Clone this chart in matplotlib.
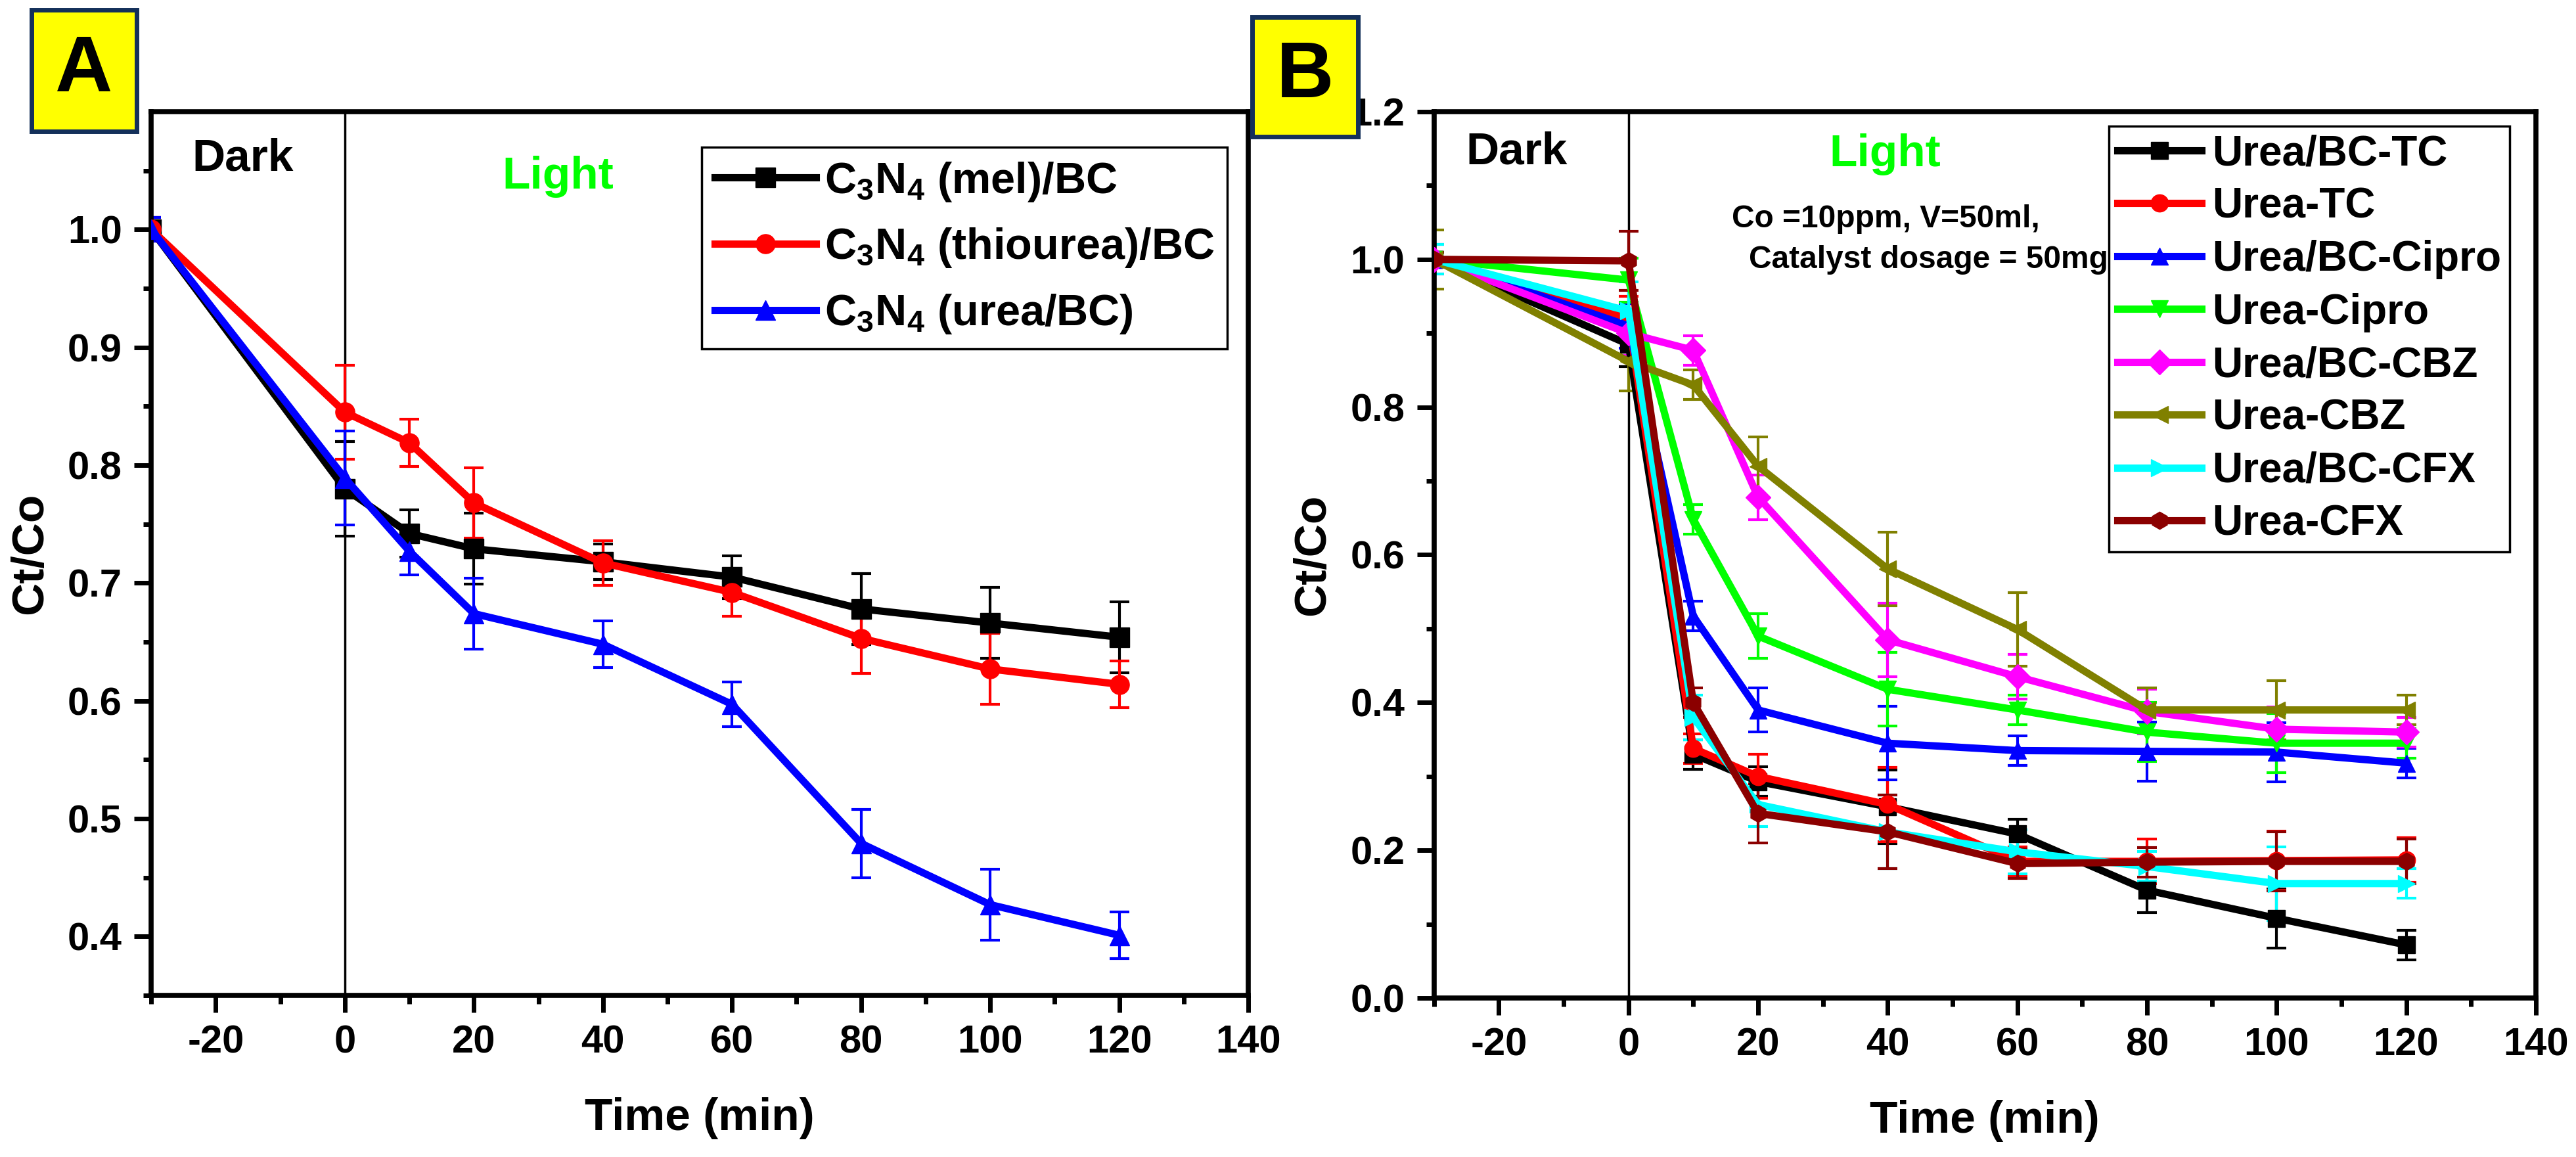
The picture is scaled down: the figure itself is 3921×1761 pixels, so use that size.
import matplotlib
matplotlib.use("Agg")
import matplotlib.pyplot as plt
from matplotlib.patches import Rectangle
import numpy as np

plt.rcParams['font.family'] = ['Liberation Sans', 'DejaVu Sans']
plt.rcParams['font.weight'] = 'bold'
plt.rcParams['axes.unicode_minus'] = False
plt.rcParams['mathtext.fontset'] = 'custom'
plt.rcParams['mathtext.bf'] = 'Liberation Sans:bold'
plt.rcParams['mathtext.rm'] = 'Liberation Sans:bold'
plt.rcParams['mathtext.default'] = 'bf'

# time points (min)
t = [-30, 0, 10, 20, 40, 60, 80, 100, 120]

# panel A
a_labels = [r'C$_3$N$_4$ (mel)/BC', r'C$_3$N$_4$ (thiourea)/BC', r'C$_3$N$_4$ (urea/BC)']
a_mel = [1.0, 0.78, 0.742, 0.729, 0.718, 0.705, 0.678, 0.666, 0.654]
a_mel_err = [0.01, 0.04, 0.02, 0.03, 0.015, 0.018, 0.03, 0.03, 0.03]
a_thio = [1.0, 0.845, 0.819, 0.768, 0.717, 0.692, 0.653, 0.627, 0.614]
a_thio_err = [0.01, 0.04, 0.02, 0.03, 0.019, 0.02, 0.03, 0.03, 0.02]
a_urea = [1.0, 0.789, 0.727, 0.674, 0.648, 0.597, 0.479, 0.427, 0.401]
a_urea_err = [0.01, 0.04, 0.02, 0.03, 0.02, 0.019, 0.029, 0.03, 0.02]

# panel B
b_labels = ['Urea/BC-TC', 'Urea-TC', 'Urea/BC-Cipro', 'Urea-Cipro',
            'Urea/BC-CBZ', 'Urea-CBZ', 'Urea/BC-CFX', 'Urea-CFX']
b_bc_tc = [1.0, 0.885, 0.33, 0.293, 0.259, 0.222, 0.146, 0.108, 0.072]
b_tc = [1.0, 0.92, 0.338, 0.30, 0.262, 0.185, 0.185, 0.186, 0.187]
b_bc_cipro = [1.0, 0.91, 0.517, 0.39, 0.345, 0.335, 0.334, 0.333, 0.318]
b_cipro = [1.0, 0.972, 0.648, 0.49, 0.418, 0.39, 0.36, 0.345, 0.345]
b_bc_cbz = [1.0, 0.90, 0.877, 0.678, 0.485, 0.435, 0.388, 0.364, 0.36]
b_cbz = [1.0, 0.862, 0.83, 0.72, 0.581, 0.499, 0.39, 0.39, 0.39]
b_bc_cfx = [1.0, 0.93, 0.38, 0.262, 0.225, 0.198, 0.178, 0.155, 0.155]
b_cfx = [1.0, 0.998, 0.40, 0.25, 0.225, 0.182, 0.184, 0.185, 0.185]
b_err = [
    [0.01, 0.03, 0.02, 0.02, 0.05, 0.02, 0.03, 0.04, 0.02],
    [0.01, 0.03, 0.02, 0.03, 0.05, 0.02, 0.03, 0.04, 0.03],
    [0.01, 0.03, 0.02, 0.03, 0.05, 0.02, 0.04, 0.04, 0.02],
    [0.01, 0.03, 0.02, 0.03, 0.05, 0.02, 0.04, 0.04, 0.02],
    [0.02, 0.03, 0.02, 0.03, 0.05, 0.03, 0.03, 0.03, 0.02],
    [0.04, 0.04, 0.02, 0.04, 0.05, 0.05, 0.03, 0.04, 0.02],
    [0.02, 0.04, 0.03, 0.03, 0.05, 0.03, 0.02, 0.05, 0.02],
    [0.01, 0.04, 0.02, 0.04, 0.05, 0.02, 0.02, 0.04, 0.03],
]

a_colors = ['black', '#FF0000', '#0000FF']
a_markers = ['s', 'o', '^']
b_colors = ['black', '#FF0000', '#0000FF', '#00FF00', '#FF00FF', '#808000', '#00FFFF', '#8B0000']
b_markers = ['s', 'o', '^', 'v', 'D', '<', '>', 'h']

fig = plt.figure(figsize=(39.21, 17.61), dpi=100)
axA = fig.add_axes([0.0587, 0.1397, 0.4259, 0.7638])
axB = fig.add_axes([0.5567, 0.1374, 0.4277, 0.7661])


def style(ax):
    for s in ax.spines.values():
        s.set_linewidth(5.5)
    ax.tick_params(which='both', direction='out', top=False, right=False, width=5)
    ax.tick_params(which='major', length=19, labelsize=43, pad=13)
    ax.tick_params(which='minor', length=9)
    ax.set_xlim(-30, 140)
    ax.set_xticks(np.arange(-20, 141, 20))
    ax.set_xticks(np.arange(-30, 141, 20), minor=True)
    ax.axvline(0, color='black', lw=2.5, zorder=1)
    ax.set_xlabel('Time (min)', fontsize=50, fontweight='bold', labelpad=40)
    ax.set_ylabel('Ct/Co', fontsize=50, fontweight='bold')
    ax.yaxis.set_label_coords(-0.091, 0.5)


# panel A
style(axA)
a_vals = [a_mel, a_thio, a_urea]
a_errs = [a_mel_err, a_thio_err, a_urea_err]
for vals, errs, c, m, lab in zip(a_vals, a_errs, a_colors, a_markers, a_labels):
    axA.errorbar(t, vals, yerr=errs, fmt='none', ecolor=c, elinewidth=3, capsize=11, capthick=3, zorder=2)
    axA.plot(t, vals, color=c, marker=m, ms=21, lw=8, label=lab, zorder=3)
axA.set_ylim(0.35, 1.1)
axA.set_yticks(np.arange(0.4, 1.01, 0.1))
axA.set_yticks(np.arange(0.35, 1.06, 0.1), minor=True)
axA.set_yticklabels(['%.1f' % v for v in np.arange(0.4, 1.01, 0.1)])
axA.text(0.037, 0.947, 'Dark', transform=axA.transAxes, fontsize=50, va='center', ha='left')
axA.text(0.32, 0.926, 'Light', transform=axA.transAxes, fontsize=50, va='center', ha='left', color='#00FF00')
legA = axA.legend(loc='upper right', bbox_to_anchor=(0.981, 0.96), fontsize=48, frameon=True,
                  fancybox=False, edgecolor='black', framealpha=1, handlelength=2.3,
                  handletextpad=0.2, labelspacing=0.52, borderpad=0.3, borderaxespad=0)
legA.get_frame().set_linewidth(2.5)

# panel B
style(axB)
b_vals = [b_bc_tc, b_tc, b_bc_cipro, b_cipro, b_bc_cbz, b_cbz, b_bc_cfx, b_cfx]
for vals, errs, c, m, lab in zip(b_vals, b_err, b_colors, b_markers, b_labels):
    axB.errorbar(t, vals, yerr=errs, fmt='none', ecolor=c, elinewidth=3, capsize=11, capthick=3, zorder=2)
    axB.plot(t, vals, color=c, marker=m, ms=19, lw=8, label=lab, zorder=3)
axB.set_ylim(0, 1.2)
axB.set_yticks(np.arange(0, 1.21, 0.2))
axB.set_yticks(np.arange(0.1, 1.2, 0.2), minor=True)
axB.set_yticklabels(['%.1f' % v for v in np.arange(0, 1.21, 0.2)])
axB.text(0.029, 0.954, 'Dark', transform=axB.transAxes, fontsize=50, va='center', ha='left')
axB.text(0.359, 0.952, 'Light', transform=axB.transAxes, fontsize=50, va='center', ha='left', color='#00FF00')
axB.text(0.27, 0.879, 'Co =10ppm, V=50ml,', transform=axB.transAxes, fontsize=34.5, va='center', ha='left')
axB.text(0.286, 0.833, 'Catalyst dosage = 50mg', transform=axB.transAxes, fontsize=34.5, va='center', ha='left')
legB = axB.legend(loc='upper right', bbox_to_anchor=(0.976, 0.984), fontsize=46, frameon=True,
                  fancybox=False, edgecolor='black', framealpha=1, handlelength=2.0,
                  handletextpad=0.25, labelspacing=0.32, borderpad=0.2, borderaxespad=0)
legB.get_frame().set_linewidth(2.5)

# panel letters
W, H = 3921.0, 1761.0
for (x0, y0, x1, y1), letter in [((48, 15, 208, 200), 'A'), ((1906, 26, 2067, 208), 'B')]:
    fig.add_artist(Rectangle((x0 / W, 1 - y1 / H), (x1 - x0) / W, (y1 - y0) / H,
                             transform=fig.transFigure, facecolor='#FFFF00',
                             edgecolor='#14305a', lw=5, zorder=5))
    fig.text((x0 + x1) / 2 / W, 1 - (y0 + y1) / 2 / H, letter, fontsize=87,
             ha='center', va='center', zorder=6)

fig.savefig('out.png', dpi=100)
